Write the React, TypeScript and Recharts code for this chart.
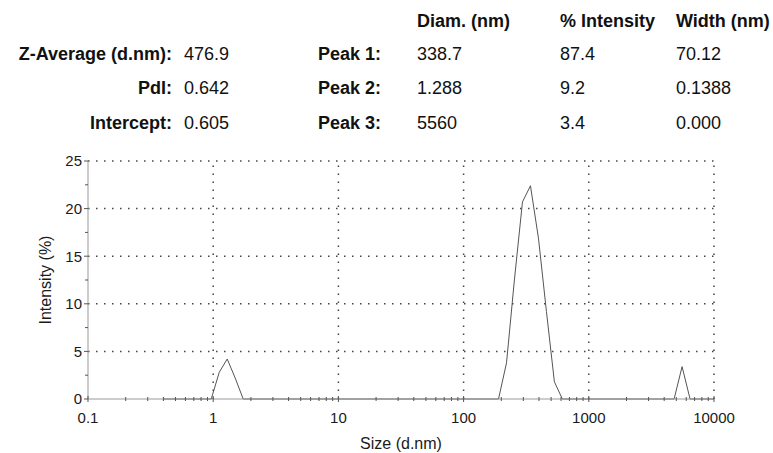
import React from 'react'
import { Label, Line, LineChart, ReferenceLine, XAxis, YAxis } from 'recharts'

// size bins (d.nm) and intensity (%) per bin
const sizes = [
  0.4, 0.4632, 0.5365, 0.6213, 0.7195, 0.8332, 0.9649, 1.117, 1.294, 1.499,
  1.736, 2.01, 2.328, 2.696, 3.122, 3.615, 4.187, 4.849, 5.615, 6.503,
  7.531, 8.721, 10.1, 11.7, 13.54, 15.69, 18.17, 21.04, 24.36, 28.21,
  32.67, 37.84, 43.82, 50.75, 58.77, 68.06, 78.82, 91.28, 105.7, 122.4,
  141.8, 164.2, 190.1, 220.2, 255.0, 295.3, 342.0, 396.1, 458.7, 531.2,
  615.1, 712.4, 825.0, 955.4, 1106, 1281, 1484, 1718, 1990, 2305,
  2669, 3091, 3580, 4145, 4801, 5560, 6439, 7456, 8635, 10000,
]
const intensity = [
  0, 0, 0, 0, 0, 0, 0, 2.8, 4.2, 2.2,
  0, 0, 0, 0, 0, 0, 0, 0, 0, 0,
  0, 0, 0, 0, 0, 0, 0, 0, 0, 0,
  0, 0, 0, 0, 0, 0, 0, 0, 0, 0,
  0, 0, 0, 3.8, 12.6, 20.7, 22.4, 16.9, 9.2, 1.8,
  0, 0, 0, 0, 0, 0, 0, 0, 0, 0,
  0, 0, 0, 0, 0, 3.4, 0, 0, 0, 0,
]

const xMajor = [0.1, 1, 10, 100, 1000, 10000]
const xMinorSteps = [2, 3, 4, 5, 6, 7, 8, 9]
const yMajor = [0, 5, 10, 15, 20, 25]
const yMinor = [2.5, 7.5, 12.5, 17.5, 22.5]
const xGrid = [1, 10, 100, 1000, 10000]
const yGrid = [5, 10, 15, 20, 25]

const columnHeads = ['Diam. (nm)', '% Intensity', 'Width (nm)']
const summaryLabels = ['Z-Average (d.nm):', 'PdI:', 'Intercept:']
const summaryValues = ['476.9', '0.642', '0.605']
const peakLabels = ['Peak 1:', 'Peak 2:', 'Peak 3:']
const peakDiam = ['338.7', '1.288', '5560']
const peakIntensity = ['87.4', '9.2', '3.4']
const peakWidth = ['70.12', '0.1388', '0.000']

const FONT = '"Liberation Sans", Arial, Helvetica, sans-serif'

const data = sizes.map((size, i) => ({ size, intensity: intensity[i] }))
const xTicks = [
  ...xMajor,
  ...xMajor.slice(0, -1).flatMap((d) => xMinorSteps.map((s) => d * s)),
].sort((a, b) => a - b)
const yTicks = [...yMajor, ...yMinor].sort((a, b) => a - b)

function XTick(props: any) {
  const { x, y, payload } = props
  const major = xMajor.includes(payload.value)
  const h = major ? 3 : 2
  return (
    <g>
      <line x1={x} x2={x} y1={y - h} y2={y + h} stroke="#555" />
      {major && (
        <text x={x} y={y + 23.5} textAnchor="middle" fontSize={15} fill="#1a1a1a" fontFamily={FONT}>
          {payload.value}
        </text>
      )}
    </g>
  )
}

function YTick(props: any) {
  const { x, y, payload } = props
  const major = yMajor.includes(payload.value)
  return (
    <g>
      <line x1={x - (major ? 4 : 3)} x2={x} y1={y} y2={y} stroke="#555" />
      {major && (
        <text x={x - 6} y={y} dy="0.36em" textAnchor="end" fontSize={15} fill="#1a1a1a" fontFamily={FONT}>
          {payload.value}
        </text>
      )}
    </g>
  )
}

const rowTop = [44, 78, 113]
const cell = (left: number, top: number, text: string, bold = false) => (
  <div
    key={`${left}-${top}`}
    style={{ position: 'absolute', left, top, lineHeight: '20px', fontSize: 18, fontWeight: bold ? 700 : 400, whiteSpace: 'nowrap', color: '#111' }}
  >
    {text}
  </div>
)
const rightCell = (right: number, top: number, text: string) => (
  <div
    key={`r-${right}-${top}`}
    style={{ position: 'absolute', left: 0, width: right, top, textAlign: 'right', lineHeight: '20px', fontSize: 18, fontWeight: 700, whiteSpace: 'nowrap', color: '#111' }}
  >
    {text}
  </div>
)

export default function App() {
  return (
    <div style={{ position: 'absolute', left: 0, top: 0, width: 773, height: 453, background: '#fff', fontFamily: FONT }}>
      {columnHeads.map((h, i) => cell([417, 560, 676][i], 11, h, true))}
      {summaryLabels.map((l, i) => rightCell(172, rowTop[i], l))}
      {summaryValues.map((v, i) => cell(184, rowTop[i], v))}
      {peakLabels.map((l, i) => rightCell(381, rowTop[i], l))}
      {peakDiam.map((v, i) => cell(417, rowTop[i], v))}
      {peakIntensity.map((v, i) => cell(560, rowTop[i], v))}
      {peakWidth.map((v, i) => cell(676, rowTop[i], v))}

      <div style={{ position: 'absolute', left: 0, top: 0 }}>
        <LineChart width={773} height={453} data={data} margin={{ top: 161, right: 59, bottom: 0, left: 28 }}>
          <XAxis
            dataKey="size"
            type="number"
            scale="log"
            domain={[0.1, 10000]}
            allowDataOverflow
            ticks={xTicks}
            interval={0}
            tick={<XTick />}
            tickLine={false}
            tickSize={0}
            tickMargin={0}
            height={54}
            axisLine={{ stroke: '#999' }}
          >
            <Label value="Size (d.nm)" position="insideBottom" offset={4} fontSize={16} fill="#1a1a1a" fontFamily={FONT} />
          </XAxis>
          <YAxis
            type="number"
            domain={[0, 25]}
            ticks={yTicks}
            interval={0}
            tick={<YTick />}
            tickLine={false}
            tickSize={0}
            tickMargin={0}
            width={60}
            axisLine={{ stroke: '#999' }}
          >
            <Label
              value="Intensity (%)"
              angle={-90}
              position="insideLeft"
              offset={17}
              fontSize={16}
              fill="#1a1a1a"
              fontFamily={FONT}
              style={{ textAnchor: 'middle' }}
            />
          </YAxis>
          {xGrid.map((v) => (
            <ReferenceLine key={`x${v}`} x={v} stroke="#444" strokeWidth={1.5} strokeDasharray="1.5 6.5" />
          ))}
          {yGrid.map((v) => (
            <ReferenceLine key={`y${v}`} y={v} stroke="#444" strokeWidth={1.5} strokeDasharray="1.5 6.5" />
          ))}
          <Line
            type="linear"
            dataKey="intensity"
            stroke="#555"
            strokeWidth={1}
            dot={false}
            isAnimationActive={false}
          />
        </LineChart>
      </div>
    </div>
  )
}
